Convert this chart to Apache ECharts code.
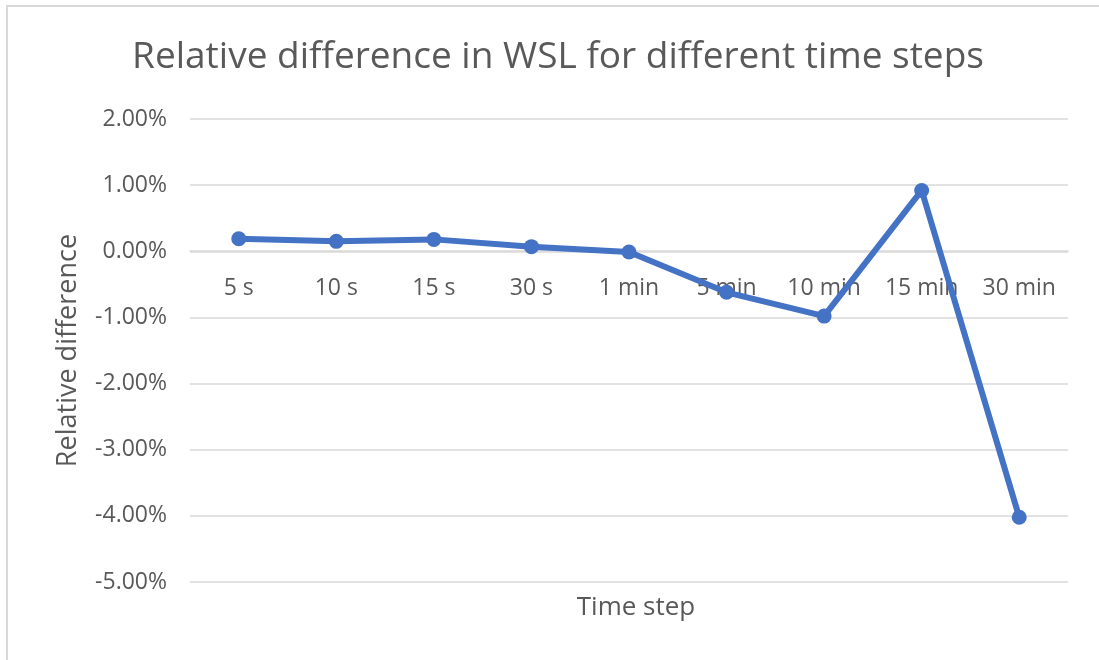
<!DOCTYPE html>
<html>
<head>
<meta charset="utf-8">
<script src="https://cdn.jsdelivr.net/npm/echarts@6/dist/echarts.min.js"></script>
<style>
  html, body { margin: 0; padding: 0; background: #fff; }
  #frame { position: absolute; left: 6px; top: 5px; width: 1093px; height: 655px;
           border-top: 2px solid #d9d9d9; border-left: 2px solid #d9d9d9; box-sizing: border-box; }
  #chart { position: absolute; left: 0; top: 0; width: 1099px; height: 660px; }
</style>
</head>
<body>
<div id="frame"></div>
<div id="chart"></div>
<script>
const timeSteps = ["5 s", "10 s", "15 s", "30 s", "1 min", "5 min", "10 min", "15 min", "30 min"];
const relDiff = [0.19, 0.15, 0.18, 0.07, -0.01, -0.62, -0.98, 0.92, -4.02];

const textColor = "#595959";
const font = "'Open Sans', 'Noto Sans', sans-serif";

const chart = echarts.init(document.getElementById("chart"));
chart.setOption({
  backgroundColor: "transparent",
  textStyle: { fontFamily: font },
  title: [
    {
      text: "Relative difference in WSL for different time steps",
      left: 553,
      textAlign: "center",
      top: 34,
      textStyle: { color: textColor, fontSize: 37, fontWeight: "normal", fontFamily: font },
    },
    {
      text: "Time step",
      left: 631,
      textAlign: "center",
      top: 590,
      textStyle: { color: textColor, fontSize: 26, fontWeight: "normal", fontFamily: font },
    },
  ],
  grid: { left: 190, right: 31, top: 119, bottom: 78 },
  xAxis: {
    type: "category",
    data: timeSteps,
    boundaryGap: true,
    // category labels sit just under the 0% line, as in the original
    offset: -331,
    axisLine: { onZero: false, lineStyle: { color: "#d9d9d9", width: 1.5 } },
    axisTick: { show: false },
    axisLabel: { color: textColor, fontSize: 23, margin: 26, fontFamily: font },
  },
  yAxis: {
    type: "value",
    min: -5,
    max: 2,
    interval: 1,
    name: "Relative difference",
    nameLocation: "middle",
    nameGap: 108,
    nameTextStyle: { color: textColor, fontSize: 27, fontFamily: font },
    axisLine: { show: false },
    axisTick: { show: false },
    axisLabel: {
      color: textColor,
      fontSize: 23,
      margin: 23,
      fontFamily: font,
      formatter: (v) => v.toFixed(2) + "%",
    },
    splitLine: { lineStyle: { color: "#d9d9d9", width: 1.5 } },
  },
  series: [
    {
      name: "Relative difference",
      type: "line",
      data: relDiff,
      symbol: "circle",
      symbolSize: 15,
      lineStyle: { color: "#4472C4", width: 6 },
      itemStyle: { color: "#4472C4" },
      z: 3,
      animation: false,
    },
  ],
});
</script>
</body>
</html>
